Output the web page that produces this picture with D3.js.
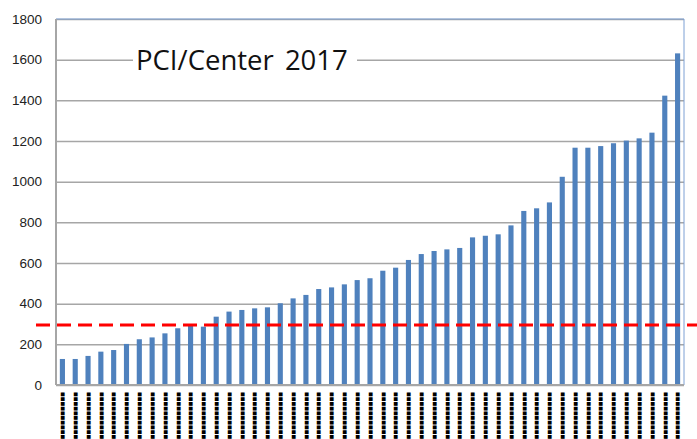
<!DOCTYPE html>
<html>
<head>
<meta charset="utf-8">
<script src="https://cdn.jsdelivr.net/npm/d3@7"></script>
<style>
  body { margin: 0; background: #fff; }
</style>
</head>
<body>
<svg id="chart" width="697" height="439"></svg>
<script>
// center names are blacked out in the source picture
var centers = [
  "■■■■■■■■■■", "■■■■■■■■■■", "■■■■■■■■■■", "■■■■■■■■■■", "■■■■■■■■■■",
  "■■■■■■■■■■", "■■■■■■■■■■", "■■■■■■■■■■", "■■■■■■■■■■", "■■■■■■■■■■",
  "■■■■■■■■■■", "■■■■■■■■■■", "■■■■■■■■■■", "■■■■■■■■■■", "■■■■■■■■■■",
  "■■■■■■■■■■", "■■■■■■■■■■", "■■■■■■■■■■", "■■■■■■■■■■", "■■■■■■■■■■",
  "■■■■■■■■■■", "■■■■■■■■■■", "■■■■■■■■■■", "■■■■■■■■■■", "■■■■■■■■■■",
  "■■■■■■■■■■", "■■■■■■■■■■", "■■■■■■■■■■", "■■■■■■■■■■", "■■■■■■■■■■",
  "■■■■■■■■■■", "■■■■■■■■■■", "■■■■■■■■■■", "■■■■■■■■■■", "■■■■■■■■■■",
  "■■■■■■■■■■", "■■■■■■■■■■", "■■■■■■■■■■", "■■■■■■■■■■", "■■■■■■■■■■",
  "■■■■■■■■■■", "■■■■■■■■■■", "■■■■■■■■■■", "■■■■■■■■■■", "■■■■■■■■■■",
  "■■■■■■■■■■", "■■■■■■■■■■", "■■■■■■■■■■", "■■■■■■■■■■"
];

var pci = [
  128, 128, 143, 164, 172, 202, 225, 234, 254, 279,
  292, 287, 336, 361, 369, 377, 382, 402, 426, 443,
  472, 480, 495, 516, 525, 562, 577, 615, 644, 659,
  667, 674, 726, 734, 741, 785, 856, 869, 898, 1024,
  1167, 1167, 1175, 1189, 1202, 1213, 1241, 1423, 1631
];

var yTicks = [0, 200, 400, 600, 800, 1000, 1200, 1400, 1600, 1800];
var threshold = 295;
var title = "PCI/Center 2017";

var svg = d3.select("#chart"),
    margin = {top: 19, right: 13, bottom: 54, left: 56},
    width = +svg.attr("width") - margin.left - margin.right,
    height = +svg.attr("height") - margin.top - margin.bottom,
    g = svg.append("g").attr("transform", "translate(" + margin.left + "," + margin.top + ")");

var x = d3.scaleBand()
    .domain(d3.range(pci.length))
    .range([0, width])
    .paddingInner(0.6)
    .paddingOuter(0.3);

var y = d3.scaleLinear()
    .domain([0, 1800])
    .range([height, 0]);

// gridlines
g.append("g")
    .call(d3.axisLeft(y).tickValues(yTicks).tickSize(-width).tickFormat(""))
    .call(function(a) { a.select(".domain").remove(); })
    .selectAll("line")
      .attr("stroke", "#a6a6a6")
      .attr("stroke-width", 1.5);

// plot frame, top and right in blue
g.append("path")
    .attr("d", "M0,0H" + width + "V" + height)
    .attr("fill", "none")
    .attr("stroke", "#7da0d4")
    .attr("stroke-width", 1);

// title, with a white box over the gridline
var tg = g.append("g").attr("transform", "translate(" + (77) + "," + y(1600) + ")");
tg.append("rect")
    .attr("x", 0).attr("y", -18)
    .attr("width", 224).attr("height", 34)
    .attr("fill", "#fff");
tg.append("text")
    .attr("x", 3)
    .attr("y", 10)
    .attr("font-family", "Open Sans, sans-serif")
    .attr("font-size", 27.5)
    .attr("fill", "#111")
    .style("word-spacing", "4px")
    .text(title);

// bars
g.selectAll(".bar")
  .data(pci)
  .enter().append("rect")
    .attr("class", "bar")
    .attr("x", function(d, i) { return x(i); })
    .attr("y", function(d) { return y(d); })
    .attr("width", x.bandwidth())
    .attr("height", function(d) { return height - y(d); })
    .attr("fill", "#4f81bd");

// axes
g.append("line")
    .attr("x1", 0).attr("x2", 0)
    .attr("y1", 0).attr("y2", height)
    .attr("stroke", "#a6a6a6").attr("stroke-width", 2);
g.append("line")
    .attr("x1", 0).attr("x2", width)
    .attr("y1", height).attr("y2", height)
    .attr("stroke", "#a6a6a6").attr("stroke-width", 2);

var ya = g.append("g")
    .call(d3.axisLeft(y).tickValues(yTicks).tickSize(0).tickPadding(14).tickFormat(d3.format("d")));
ya.select(".domain").remove();
ya.selectAll("text")
    .attr("font-family", "Liberation Sans, Arial, sans-serif")
    .attr("font-size", 13.5)
    .attr("fill", "#222");

// x labels, rotated
var xa = g.append("g")
    .attr("transform", "translate(0," + height + ")")
    .call(d3.axisBottom(x).tickSize(0).tickFormat(function(i) { return centers[i]; }));
xa.select(".domain").remove();
xa.selectAll("text")
    .attr("transform", "rotate(-90)")
    .attr("text-anchor", "end")
    .attr("x", -7)
    .attr("y", 0)
    .attr("dy", "0.35em")
    .attr("font-family", "DejaVu Sans, sans-serif")
    .attr("font-size", 5)
    .attr("fill", "#000");

// threshold line
g.append("line")
    .attr("x1", -20)
    .attr("x2", width + margin.right)
    .attr("y1", y(threshold))
    .attr("y2", y(threshold))
    .attr("stroke", "#ff0000")
    .attr("stroke-width", 3)
    .attr("stroke-dasharray", "14,7");
</script>
</body>
</html>
